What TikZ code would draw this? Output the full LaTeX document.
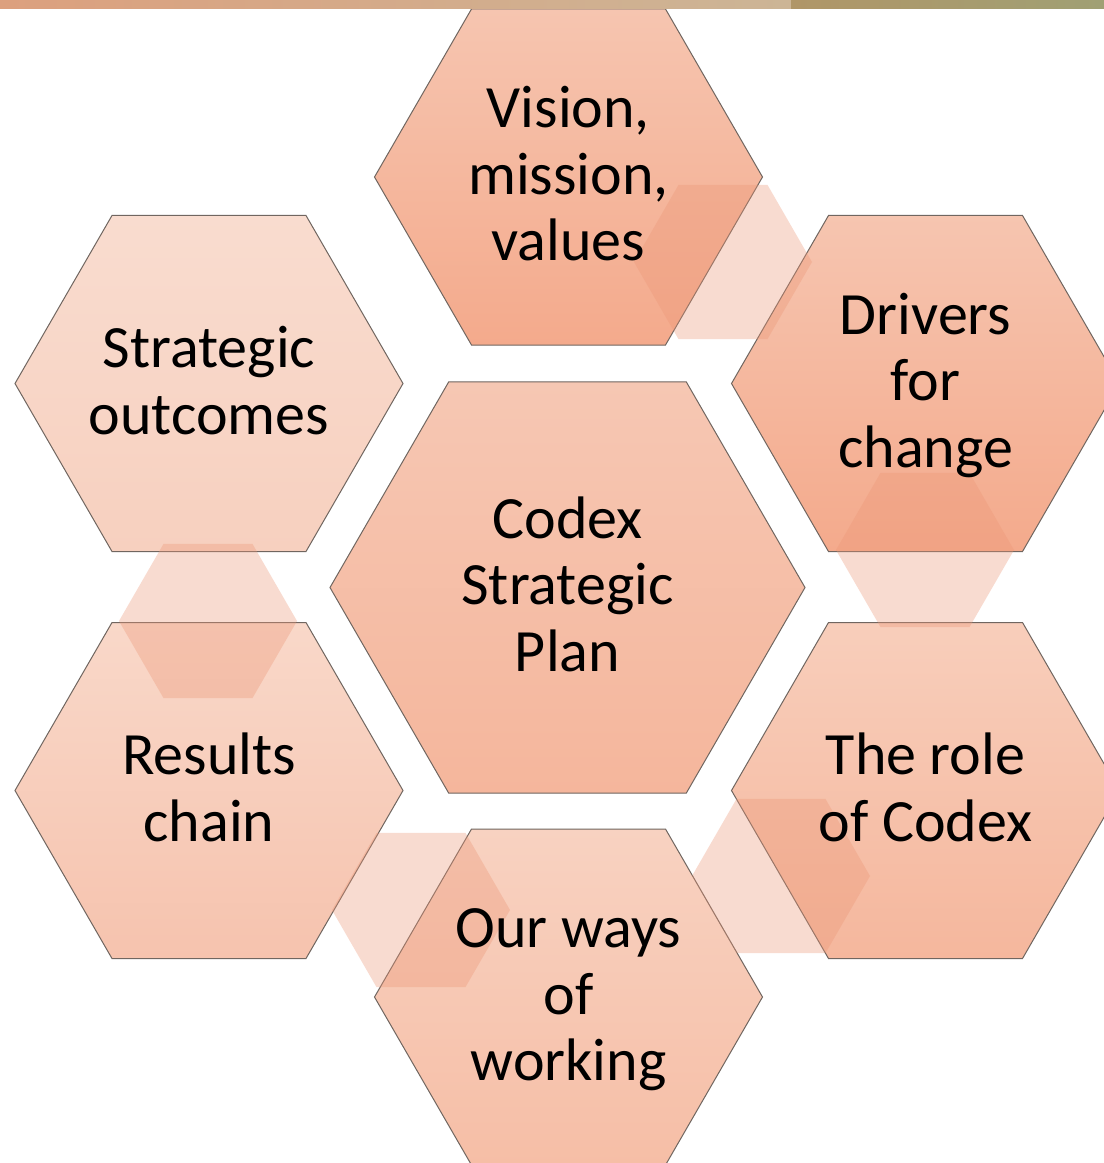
\documentclass[tikz,border=0pt]{standalone}
\usepackage{fontspec}
\setmainfont{Carlito}
\usetikzlibrary{shapes.geometric}
\definecolor{edgecol}{RGB}{112,102,96}
\definecolor{linkcol}{RGB}{236,150,118}
\definecolor{barA}{RGB}{220,160,126}
\definecolor{barB}{RGB}{204,181,150}
\definecolor{barC}{RGB}{176,150,104}
\definecolor{barD}{RGB}{160,160,116}
\newcommand\hxt[1]{\strut#1\strut}
\tikzset{
  hexbase/.style={regular polygon, regular polygon sides=6, inner sep=0pt, outer sep=0pt},
  hexbig/.style={hexbase, minimum size=388pt, draw=edgecol, line width=1pt},
  hexcenter/.style={hexbase, minimum size=475pt, draw=edgecol, line width=1pt},
  hexlink/.style={hexbase, minimum size=178pt, draw=none, fill=linkcol, fill opacity=0.34},
  hextxt/.style={align=center, inner sep=0pt, text=black, yshift=-4pt, font=\fontsize{60}{66.5}\selectfont},
  shadeA/.style={top color={rgb,255:red,246;green,197;blue,176}, bottom color={rgb,255:red,244;green,170;blue,140}},
  shadeB/.style={top color={rgb,255:red,249;green,220;blue,207}, bottom color={rgb,255:red,247;green,208;blue,191}},
  shadeC/.style={top color={rgb,255:red,249;green,216;blue,201}, bottom color={rgb,255:red,246;green,195;blue,174}},
  shadeD/.style={top color={rgb,255:red,246;green,199;blue,179}, bottom color={rgb,255:red,245;green,182;blue,156}},
  shadeE/.style={top color={rgb,255:red,248;green,206;blue,187}, bottom color={rgb,255:red,245;green,183;blue,157}},
  shadeF/.style={top color={rgb,255:red,248;green,210;blue,193}, bottom color={rgb,255:red,246;green,190;blue,166}},
}
\begin{document}
\begin{tikzpicture}[x=1pt,y=-1pt]
\useasboundingbox (0,0) rectangle (1104,1163);
\clip (0,0) rectangle (1104,1163);
\fill[white] (0,0) rectangle (1104,1163);
% big hexagons
\node[hexbig, shadeA] (vision) at (568.5,177) {};
\node[hexbig, shadeA] (drivers) at (925.5,383.5) {};
\node[hexbig, shadeB] (strat) at (209,383.5) {};
\node[hexcenter, shadeD] (center) at (567.5,587.5) {};
\node[hexbig, shadeC] (results) at (209,790.5) {};
\node[hexbig, shadeE] (role) at (925.5,790.5) {};
\node[hexbig, shadeF] (ways) at (568.5,997) {};
% link hexagons
\node[hexlink] (l1) at (723,262) {};
\node[hexlink] (l2) at (925,550) {};
\node[hexlink] (l3) at (781,876) {};
\node[hexlink] (l4) at (421,910) {};
\node[hexlink] (l5) at (208,621) {};
% texts
\node[hextxt] (tvision) at (vision) {\hxt{Vision,\\mission,\\values}};
\node[hextxt] (tdrivers) at (drivers) {\hxt{Drivers\\for\\change}};
\node[hextxt] (tstrat) at (strat) {\hxt{Strategic\\outcomes}};
\node[hextxt] (tcenter) at (center) {\hxt{Codex\\Strategic\\Plan}};
\node[hextxt] (tresults) at (results) {\hxt{Results\\chain}};
\node[hextxt] (trole) at (role) {\hxt{The role\\of Codex}};
\node[hextxt] (tways) at (ways) {\hxt{Our ways\\of\\working}};
% top bar
\shade[left color=barA, right color=barB] (0,0) rectangle (791,8);
\shade[left color=barC, right color=barD] (791,0) rectangle (1104,8);
\end{tikzpicture}
\end{document}
